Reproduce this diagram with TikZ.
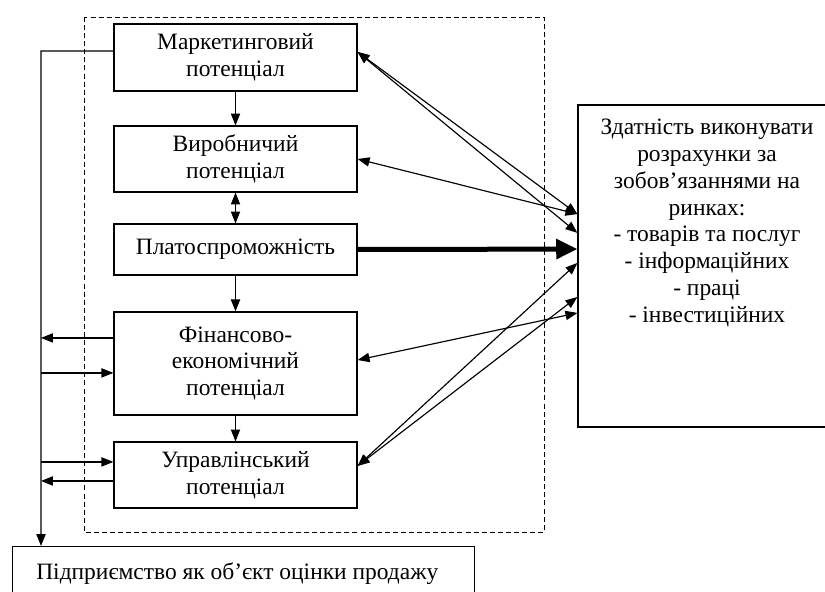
\documentclass[tikz,border=0pt]{standalone}
\usepackage{fontspec}
\setmainfont{Liberation Serif}
\usetikzlibrary{arrows.meta,positioning}

\begin{document}
\begin{tikzpicture}[x=0.52pt, y=-0.52pt, line width=0.6pt, >={Triangle[length=6.2pt,width=4.8pt]},
    block/.style={draw, minimum width=126.4pt, align=center,
      font=\fontsize{12.2}{14}\selectfont},
    thickarrow/.style={->, line width=2.6pt, >={Triangle[length=11pt,width=10pt]}}]
    \clip (0,0) rectangle (825,592);

    % potentials inside the dashed frame
    \draw[dashed, line width=0.5pt, dash pattern=on 2.6pt off 1.6pt] (84,17) rectangle (544,532);
    \node[block, minimum height=34.8pt] (mark) at (235.5,57.5) {Маркетинговий\\потенціал};
    \node[block, minimum height=34.3pt] (vyr) at (235.5,159) {Виробничий\\потенціал};
    \node[block, minimum height=26.5pt] (plat) at (235.5,249.5) {Платоспроможність};
    \node[block, minimum height=53.6pt] (fin) at (235.5,363.5) {Фінансово-\\економічний\\потенціал};
    \node[block, minimum height=34.3pt] (upr) at (235.5,475) {Управлінський\\потенціал};

    % markets
    \node[draw, minimum width=134.2pt, minimum height=167.4pt] (abil) at (707,266) {};
    \node[anchor=north, align=center, font=\fontsize{12.2}{14}\selectfont] (abiltext)
      at ([yshift=-3.8pt]abil.north) {Здатність виконувати\\розрахунки за\\зобов’язаннями на\\ринках:\\- товарів та послуг\\- інформаційних\\- праці\\- інвестиційних};

    % enterprise
    \node[draw, anchor=north west, minimum width=240pt, minimum height=28pt] (firm) at (12,546) {};
    \node[anchor=west, font=\fontsize{12.2}{14}\selectfont] (firmtext)
      at ([xshift=9pt]firm.west) {Підприємство як об’єкт оцінки продажу};

    \coordinate (bus) at (41,51);

    \draw[->] (mark) -- (vyr);
    \draw[<->] (vyr) -- (plat);
    \draw[->] (plat) -- (fin);
    \draw[->] (fin) -- (upr);

    \draw[<->] ([yshift=2.9pt]mark.east) -- ([yshift=27pt]abil.west);
    \draw[<->] ([yshift=2.9pt]mark.east) -- ([yshift=17.2pt]abil.west);
    \draw[<->] (vyr.east) -- ([yshift=27pt]abil.west);
    \draw[thickarrow] (plat.east) -- ([yshift=8.8pt]abil.west);
    \draw[<->] ([yshift=1.8pt]fin.east) -- ([yshift=-24.4pt]abil.west);
    \draw[<->] ([yshift=4.7pt]upr.east) -- ([yshift=1.6pt]abil.west);
    \draw[<->] ([yshift=4.7pt]upr.east) -- ([yshift=-16.1pt]abil.west);

    \draw[->] ([yshift=3.4pt]mark.west) -- (bus) -- (bus |- firm.north);
    \draw[->] ([yshift=13.3pt]fin.west) -- ([yshift=13.3pt]fin.west -| bus);
    \draw[<-] ([yshift=-4.9pt]fin.west) -- ([yshift=-4.9pt]fin.west -| bus);
    \draw[<-] ([yshift=6.8pt]upr.west) -- ([yshift=6.8pt]upr.west -| bus);
    \draw[->] ([yshift=-3.1pt]upr.west) -- ([yshift=-3.1pt]upr.west -| bus);
\end{tikzpicture}
\end{document}
